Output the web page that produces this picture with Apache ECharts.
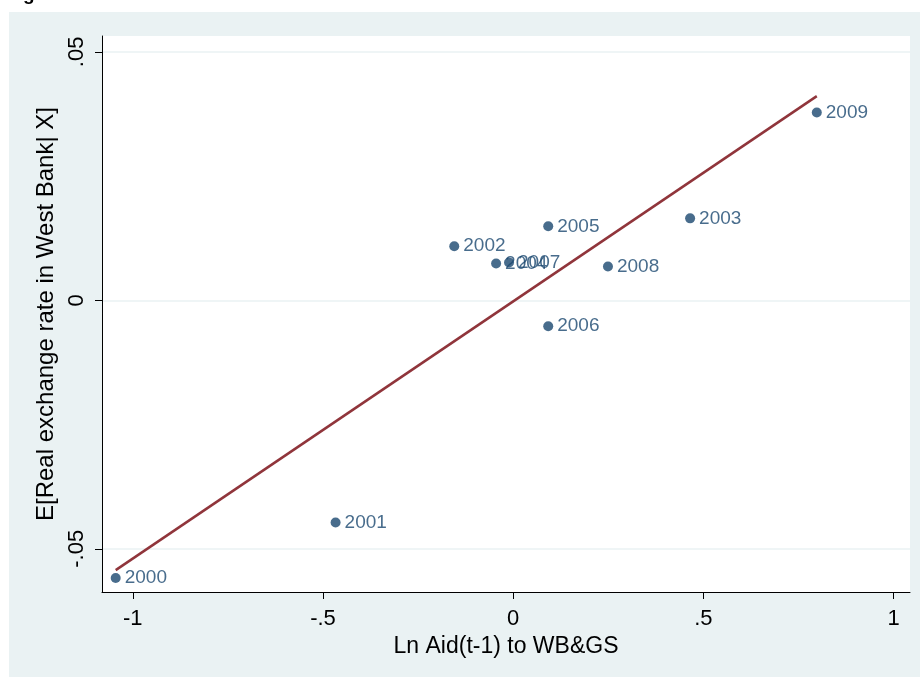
<!DOCTYPE html>
<html><head><meta charset="utf-8">
<script src="https://cdn.jsdelivr.net/npm/echarts@6/dist/echarts.min.js"></script>
<style>html,body{margin:0;padding:0;background:#fff}#c{width:920px;height:677px}</style>
</head><body><div id="c"></div>
<script>
const years = ['2000','2001','2002','2004','2007','2005','2006','2008','2003','2009'];
const lnAid = [-1.045, -0.467, -0.155, -0.045, -0.011, 0.092, 0.092, 0.249, 0.465, 0.798];
const rer = [-0.0559, -0.0447, 0.0109, 0.0074, 0.0076, 0.0149, -0.0052, 0.0068, 0.0165, 0.0378];
const fitX = [-1.045, 0.798];
const fitY = [-0.0543, 0.0411];
const xTicks = [-1, -0.5, 0, 0.5, 1];
const yTicks = [-0.05, 0, 0.05];

const fmt = v => { let s = String(Math.round(v*1000)/1000); return s.replace(/^0\./,'.').replace(/^-0\./,'-.'); };
const font = 'Liberation Sans, Arial, sans-serif';
const chart = echarts.init(document.getElementById('c'));
chart.setOption({
  animation: false,
  backgroundColor: '#ffffff',
  graphic: [
    {type:'rect', z:-10, shape:{x:9,y:12,width:911,height:665}, style:{fill:'#EAF2F3'}},
    {type:'text', left:6, top:-15, style:{text:'Figure', font:'bold 19px '+font, fill:'#000'}}
  ],
  grid: {left:102, top:36, right:10, bottom:85, show:true, backgroundColor:'#ffffff', borderWidth:0},
  xAxis: {
    type:'value', min:-1.081, max:1.043,
    name:'Ln Aid(t-1) to WB&GS', nameLocation:'middle', nameGap:40,
    nameTextStyle:{fontSize:23, color:'#000', fontFamily:font},
    axisLine:{show:true, onZero:false, lineStyle:{color:'#000', width:1}},
    axisTick:{show:true, length:7, customValues:xTicks, lineStyle:{color:'#000'}},
    axisLabel:{customValues:xTicks, formatter:fmt, fontSize:22, color:'#000', fontFamily:font, margin:16},
    splitLine:{show:false}
  },
  yAxis: {
    type:'value', min:-0.0587, max:0.0532,
    name:'E[Real exchange rate in West Bank| X]', nameLocation:'middle', nameGap:43,
    nameTextStyle:{fontSize:24, color:'#000', fontFamily:font},
    axisLine:{show:true, onZero:false, lineStyle:{color:'#000', width:1}},
    axisTick:{show:true, length:7, customValues:yTicks, lineStyle:{color:'#000'}},
    axisLabel:{customValues:yTicks, formatter:fmt, rotate:90, fontSize:22, color:'#000', fontFamily:font, margin:14},
    splitLine:{show:false}
  },
  series: [
    {
      type:'scatter', data: lnAid.map((x,i)=>[x, rer[i], years[i]]),
      symbolSize:10, itemStyle:{color:'#1a476f'},
      label:{show:true, position:'right', distance:4, formatter:p=>p.data[2], fontSize:19, color:'#1a476f', fontFamily:font},
      markLine:{silent:true, symbol:'none', label:{show:false}, lineStyle:{color:'#EAF2F3', width:1.5, type:'solid'},
        data: yTicks.map(v=>({yAxis:v})), z:0},
      z:3
    },
    {
      type:'line', data: fitX.map((x,i)=>[x, fitY[i]]), symbol:'none',
      lineStyle:{color:'#90353b', width:2.5}, z:2
    }
  ]
});
</script></body></html>
